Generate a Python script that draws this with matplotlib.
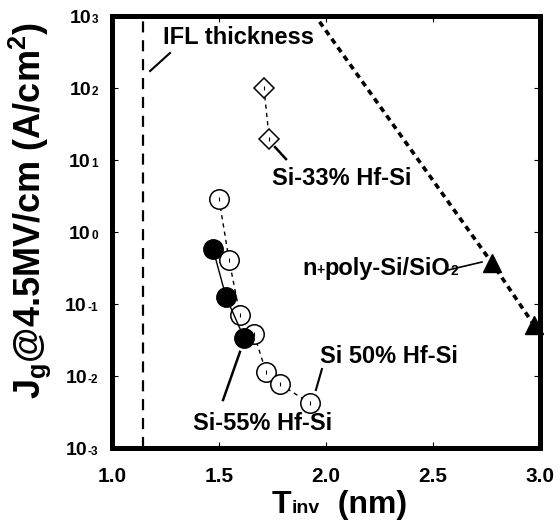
import numpy as np
import matplotlib
matplotlib.use("Agg")
import matplotlib.pyplot as plt
from matplotlib.ticker import NullLocator

plt.rcParams["font.family"] = "Liberation Sans"
plt.rcParams["font.weight"] = "bold"
plt.rcParams["mathtext.fontset"] = "custom"
plt.rcParams["mathtext.rm"] = "Liberation Sans:bold"
plt.rcParams["mathtext.it"] = "Liberation Sans:bold"
plt.rcParams["mathtext.bf"] = "Liberation Sans:bold"

# -----------------------------
# data
# -----------------------------
si33_tinv = [1.71, 1.735]
si33_jg = [100, 19.5]

si50_tinv = [1.50, 1.547, 1.598, 1.664, 1.72, 1.785, 1.925]
si50_jg = [2.9, 0.41, 0.070, 0.038, 0.0114, 0.0077, 0.0042]

si55_tinv = [1.472, 1.533, 1.617]
si55_jg = [0.58, 0.125, 0.034]

sio2_tinv = [2.776, 2.972]
sio2_jg = [0.37, 0.051]
sio2_trend_tinv = [1.97, 2.776, 2.972]
sio2_trend_jg = [830, 0.37, 0.051]

ifl_tinv = 1.145

x_ticks = [1.0, 1.5, 2.0, 2.5, 3.0]
x_labels = ["1.0", "1.5", "2.0", "2.5", "3.0"]
y_exps = [3, 2, 1, 0, -1, -2, -3]

# -----------------------------
# figure
# -----------------------------
fig = plt.figure(figsize=(5.58, 5.29), dpi=100)
ax = fig.add_axes([0.2007, 0.1531, 0.7670, 0.8167])
ax.set_yscale("log")
ax.set_xlim(1.0, 3.0)
ax.set_ylim(1e-3, 1e3)

# IFL thickness limit
ax.axvline(ifl_tinv, color="black", lw=1.6, ls=(0, (5, 3.5)))

# SiO2 trend + points
ax.plot(sio2_trend_tinv, sio2_trend_jg, color="black", lw=2.6,
        ls=(0, (1.6, 1.3)), zorder=2)
ax.plot(sio2_tinv, sio2_jg, ls="none", marker="^", ms=13, color="black", zorder=4,
        clip_on=False)

# Si-33% Hf-Si
ax.plot(si33_tinv, si33_jg, color="black", lw=1.0, ls=(0, (3, 3)),
        marker="D", ms=10, mfc="white", mec="black", mew=1.1, zorder=3)
ax.plot(si33_tinv, si33_jg, ls="none", marker="|", ms=3, color="black", mew=0.8, zorder=5)

# Si 50% Hf-Si
ax.plot(si50_tinv, si50_jg, color="black", lw=1.0, ls=(0, (3, 3)),
        marker="o", ms=14, mfc="white", mec="black", mew=1.1, zorder=3)
ax.plot(si50_tinv, si50_jg, ls="none", marker="|", ms=3, color="black", mew=0.8, zorder=5)

# Si-55% Hf-Si
ax.plot(si55_tinv, si55_jg, color="black", lw=1.0, ls="-",
        marker="o", ms=14, mfc="black", mec="black", zorder=4)

# -----------------------------
# axes styling
# -----------------------------
for s in ax.spines.values():
    s.set_linewidth(3.6)

ax.set_xticks(x_ticks)
ax.set_xticklabels(x_labels, fontsize=15, fontweight="bold")
ax.set_yticks([10.0 ** e for e in y_exps])
ax.set_yticklabels([])
ax.yaxis.set_minor_locator(NullLocator())
ax.xaxis.set_minor_locator(NullLocator())
ax.tick_params(which="both", direction="in", top=True, right=True,
               length=4, width=0.8)
ax.tick_params(axis="x", pad=14)

ax.set_ylabel(r"J$_{g}$@4.5MV/cm (A/cm$^{2}$)", fontsize=26, fontweight="bold")
ax.yaxis.set_label_coords(-0.192, 0.550)
ax.yaxis.label.set_va("center")

fig.canvas.draw()
renderer = fig.canvas.get_renderer()


def pieces_text(xy, xycoords, pieces, start=(0, 0)):
    # write text made of pieces of different size, side by side on one baseline
    x_off = start[0]
    for s, size, dy in pieces:
        t = ax.annotate(s, xy=xy, xycoords=xycoords,
                        xytext=(x_off, start[1] + dy), textcoords="offset points",
                        ha="left", va="baseline", fontsize=size, fontweight="bold",
                        annotation_clip=False)
        x_off += t.get_window_extent(renderer).width * 72 / fig.dpi


# x label: T with small "inv"
pieces_text((0.374, -0.150), "axes fraction",
            [("T", 23, 0), ("inv", 14, 0), ("  (nm)", 23, 0)])

# -----------------------------
# annotations
# -----------------------------
txt_kw = dict(fontsize=17, fontweight="bold", va="center", ha="left")
ax.text(1.238, 510, "IFL thickness", **txt_kw)
ax.plot([1.178, 1.271], [172, 306], color="black", lw=1.5)

ax.text(1.748, 5.6, "Si-33% Hf-Si", **txt_kw)
ax.plot([1.762, 1.813], [15.1, 10.3], color="black", lw=1.8)

ax.text(1.379, 0.00222, "Si-55% Hf-Si", **txt_kw)
ax.plot([1.598, 1.519], [0.0216, 0.00464], color="black", lw=1.8)

ax.text(1.972, 0.0184, "Si 50% Hf-Si", **txt_kw)
ax.plot([1.981, 1.953], [0.0125, 0.0064], color="black", lw=1.5)

pieces_text((1.888, 0.327), "data",
            [("n", 17, 0), ("+", 10, 1), ("poly-Si/SiO", 17, 0), ("2", 10, 0)],
            start=(0, -6))
ax.plot([2.570, 2.729], [0.296, 0.383], color="black", lw=1.2)

# y tick labels as "10" + small exponent on the baseline
for e in y_exps:
    ex = ax.annotate(str(e), xy=(0, 10.0 ** e), xycoords=("axes fraction", "data"),
                     xytext=(-10, -5), textcoords="offset points",
                     ha="right", va="baseline", fontsize=8.5, fontweight="bold")
    w = ex.get_window_extent(renderer).width * 72 / fig.dpi
    ax.annotate("10", xy=(0, 10.0 ** e), xycoords=("axes fraction", "data"),
                xytext=(-10 - w - 0.5, -5), textcoords="offset points",
                ha="right", va="baseline", fontsize=14, fontweight="bold")

fig.savefig("out.png", dpi=100)
